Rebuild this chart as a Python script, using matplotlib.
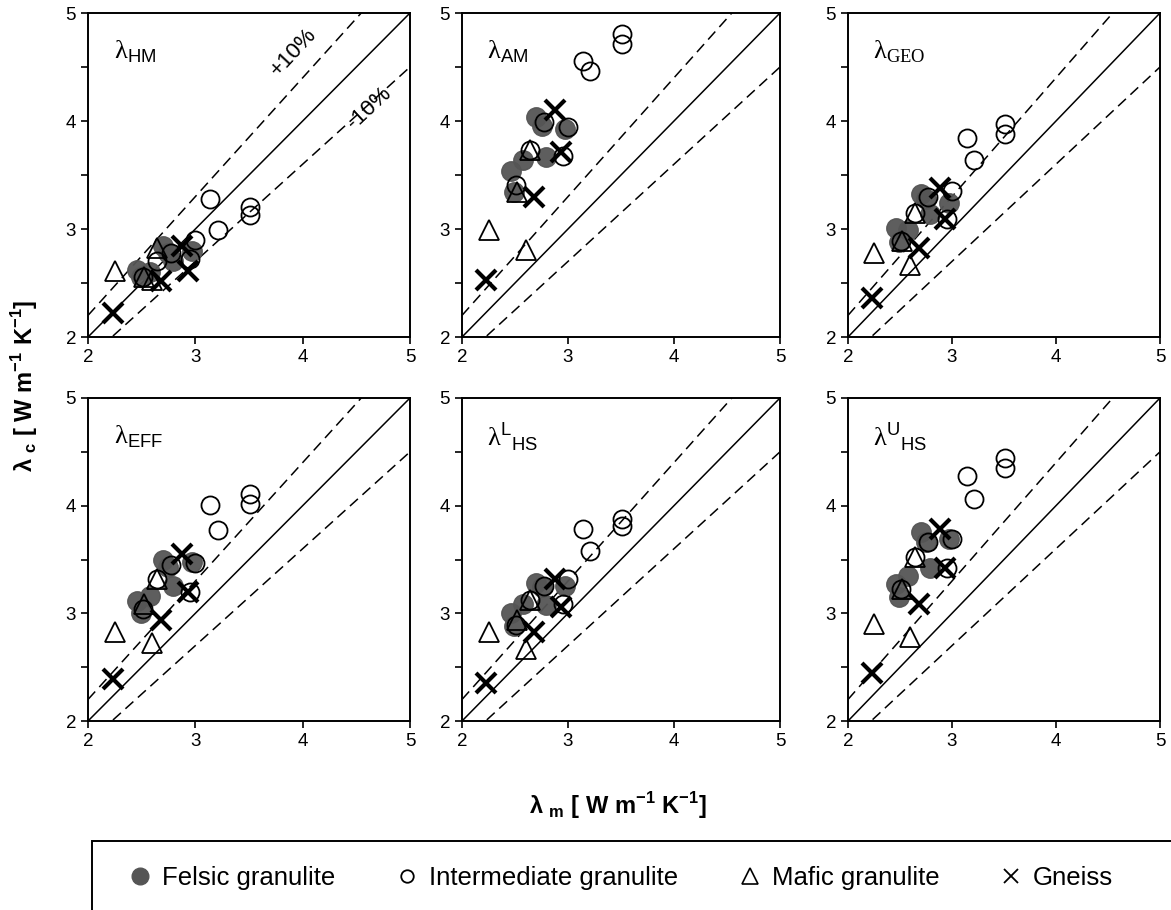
import matplotlib
matplotlib.use('Agg')
import matplotlib.pyplot as plt
from matplotlib.patches import Rectangle
from matplotlib.lines import Line2D

plt.rcParams['font.family'] = ['Liberation Sans', 'DejaVu Sans']
plt.rcParams['mathtext.fontset'] = 'custom'
plt.rcParams['mathtext.rm'] = 'Liberation Serif'
plt.rcParams['mathtext.sf'] = 'Liberation Sans'

# measured conductivity (x) per sample group
x_felsic = [2.46, 2.49, 2.58, 2.70, 2.75, 2.79, 2.97]
x_inter = [2.51, 2.64, 2.77, 2.95, 3.00, 3.14, 3.21, 3.51, 3.51]
x_mafic = [2.25, 2.52, 2.60, 2.64]
x_gneiss = [2.23, 2.68, 2.88, 2.93]

models = ['HM', 'AM', 'GEO', 'EFF', 'LHS', 'UHS']
labels = [r'$\mathrm{\lambda}_{\mathsf{HM}}$',
          r'$\mathrm{\lambda}_{\mathsf{AM}}$',
          r'$\mathrm{\lambda}_{\mathrm{GEO}}$',
          r'$\mathrm{\lambda}_{\mathsf{EFF}}$',
          r'$\mathrm{\lambda}^{\mathsf{L}}{}_{\mathsf{HS}}$',
          r'$\mathrm{\lambda}^{\mathsf{U}}{}_{\mathsf{HS}}$']

# calculated conductivity per model
y_felsic = {
    'HM':  [2.62, 2.56, 2.60, 2.84, 2.78, 2.70, 2.80],
    'AM':  [3.54, 3.34, 3.64, 4.04, 3.95, 3.67, 3.93],
    'GEO': [3.01, 2.88, 2.99, 3.32, 3.28, 3.14, 3.24],
    'EFF': [3.11, 3.00, 3.16, 3.50, 3.43, 3.25, 3.48],
    'LHS': [3.00, 2.88, 3.09, 3.28, 3.24, 3.08, 3.25],
    'UHS': [3.27, 3.15, 3.35, 3.76, 3.66, 3.42, 3.69],
}
y_inter = {
    'HM':  [2.56, 2.70, 2.78, 2.72, 2.90, 3.28, 2.99, 3.20, 3.13],
    'AM':  [3.41, 3.73, 3.99, 3.68, 3.94, 4.56, 4.46, 4.81, 4.71],
    'GEO': [2.89, 3.15, 3.30, 3.09, 3.35, 3.84, 3.64, 3.97, 3.88],
    'EFF': [3.04, 3.32, 3.45, 3.20, 3.47, 4.01, 3.77, 4.11, 4.02],
    'LHS': [2.89, 3.12, 3.25, 3.09, 3.32, 3.78, 3.58, 3.88, 3.81],
    'UHS': [3.23, 3.52, 3.66, 3.42, 3.69, 4.28, 4.06, 4.44, 4.35],
}
y_mafic = {
    'HM':  [2.61, 2.56, 2.53, 2.82],
    'AM':  [2.99, 3.34, 2.81, 3.73],
    'GEO': [2.78, 2.89, 2.67, 3.15],
    'EFF': [2.83, 3.09, 2.72, 3.32],
    'LHS': [2.83, 2.94, 2.67, 3.12],
    'UHS': [2.90, 3.23, 2.78, 3.52],
}
y_gneiss = {
    'HM':  [2.22, 2.52, 2.84, 2.61],
    'AM':  [2.53, 3.30, 4.10, 3.71],
    'GEO': [2.36, 2.82, 3.38, 3.09],
    'EFF': [2.39, 2.94, 3.55, 3.20],
    'LHS': [2.35, 2.83, 3.32, 3.06],
    'UHS': [2.45, 3.09, 3.78, 3.42],
}

W, H = 1171, 910
fig = plt.figure(figsize=(W / 100, H / 100), dpi=100)

cols = [(88, 322), (462, 318), (848, 312)]
rows = [(13, 337), (398, 721)]

line = [2, 5]
for i, m in enumerate(models):
    r, c = divmod(i, 3)
    left, width = cols[c]
    top, bottom = rows[r]
    ax = fig.add_axes([left / W, 1 - bottom / H, width / W, (bottom - top) / H])

    ax.plot(line, line, color='black', lw=1.1)
    ax.plot(line, [v * 1.1 for v in line], color='black', lw=1.1, dashes=(7, 4))
    ax.plot(line, [v * 0.9 for v in line], color='black', lw=1.1, dashes=(7, 4))

    ax.plot(x_felsic, y_felsic[m], 'o', ms=14, color='#555555', mec='#555555', alpha=0.95)
    ax.plot(x_inter, y_inter[m], 'o', ms=13, mfc='none', mec='black', mew=1.3)
    ax.plot(x_mafic, y_mafic[m], '^', ms=14, mfc='none', mec='black', mew=1.3)
    ax.plot(x_gneiss, y_gneiss[m], 'x', ms=15, color='black', mew=3)

    ax.set_xlim(2, 5)
    ax.set_ylim(2, 5)
    ax.set_xticks([2, 3, 4, 5])
    ax.set_yticks([2, 3, 4, 5])
    ax.set_yticks([2.5, 3.5, 4.5], minor=True)
    ax.tick_params(which='both', direction='out', length=5, width=1.2, labelsize=13.5)
    for s in ax.spines.values():
        s.set_linewidth(1.4)

    ax.text(0.08, 0.88, labels[i], transform=ax.transAxes, fontsize=19, ha='left', va='center')

    if m == 'HM':
        ax.text(3.91, 4.64, '+10%', fontsize=16, rotation=47, ha='center', va='center')
        ax.text(4.62, 4.12, '-10%', fontsize=16, rotation=43, ha='center', va='center')

fig.text(25 / W, 1 - 386 / H, r'λ $_\mathregular{c}$ [ W m$^\mathregular{-1}$ K$^\mathregular{-1}$]',
         rotation=90, fontsize=17, fontweight='bold', ha='center', va='center')
fig.text(618 / W, 1 - 806 / H, r'λ $_\mathregular{m}$ [ W m$^\mathregular{-1}$ K$^\mathregular{-1}$]',
         fontsize=17, fontweight='bold', ha='center', va='center')

fig.patches.append(Rectangle((92 / W, -0.05), 1.2, (1 - 841 / H) + 0.05, transform=fig.transFigure,
                             fill=False, edgecolor='black', lw=1.4))

handles = [
    Line2D([], [], ls='none', marker='o', ms=12, color='#555555'),
    Line2D([], [], ls='none', marker='o', ms=9, mfc='none', mec='black', mew=1.3),
    Line2D([], [], ls='none', marker='^', ms=11, mfc='none', mec='black', mew=1.2),
    Line2D([], [], ls='none', marker='x', ms=10, color='black', mew=1.3),
]
fig.legend(handles, ['Felsic granulite', 'Intermediate granulite', 'Mafic granulite', 'Gneiss'],
           loc='center', bbox_to_anchor=(620 / W, 1 - 878 / H), ncol=4, frameon=False,
           fontsize=18.5, columnspacing=2.3, handletextpad=0.35, handlelength=1.0)

fig.savefig('out.png', dpi=100)
